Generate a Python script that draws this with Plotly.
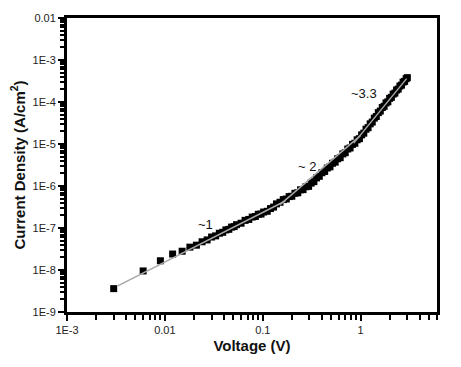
import math
import plotly.graph_objects as go

voltage = [0.003, 0.006, 0.009, 0.012, 0.015, 0.018, 0.021, 0.024, 0.027, 0.030,
           0.033, 0.036, 0.039, 0.042, 0.045, 0.048, 0.051, 0.054, 0.060, 0.066,
           0.072, 0.078, 0.084, 0.090, 0.096, 0.102, 0.111, 0.120, 0.129, 0.138,
           0.150, 0.162, 0.174, 0.186, 0.198, 0.213, 0.228, 0.243, 0.258, 0.276,
           0.294, 0.312, 0.333, 0.354, 0.378, 0.402, 0.429, 0.456, 0.486, 0.516,
           0.549, 0.582, 0.618, 0.657, 0.696, 0.738, 0.780, 0.825, 0.873, 0.921,
           0.972, 1.023, 1.077, 1.134, 1.191, 1.251, 1.314, 1.380, 1.446, 1.515,
           1.587, 1.662, 1.737, 1.815, 1.896, 1.977, 2.061, 2.148, 2.238, 2.328,
           2.421, 2.517, 2.613, 2.712, 2.814, 2.916, 3.000]
current = [3.6e-9, 9.5e-9, 1.66e-8, 2.4e-8, 2.8e-8, 3.5e-8, 3.9e-8, 4.7e-8, 5.2e-8, 6.1e-8,
           6.5e-8, 7.5e-8, 7.9e-8, 9.0e-8, 9.3e-8, 1.05e-7, 1.08e-7, 1.20e-7, 1.30e-7, 1.52e-7,
           1.60e-7, 1.82e-7, 1.88e-7, 2.12e-7, 2.15e-7, 2.40e-7, 2.50e-7, 2.90e-7, 3.15e-7, 3.75e-7,
           4.10e-7, 4.75e-7, 4.90e-7, 5.60e-7, 5.70e-7, 6.70e-7, 6.90e-7, 8.10e-7, 8.20e-7, 9.60e-7,
           9.80e-7, 1.17e-6, 1.27e-6, 1.56e-6, 1.70e-6, 2.07e-6, 2.22e-6, 2.68e-6, 2.86e-6, 3.48e-6,
           3.70e-6, 4.45e-6, 4.72e-6, 5.80e-6, 6.20e-6, 7.60e-6, 8.05e-6, 9.80e-6, 1.04e-5, 1.26e-5,
           1.34e-5, 1.65e-5, 1.81e-5, 2.25e-5, 2.45e-5, 3.02e-5, 3.33e-5, 4.13e-5, 4.52e-5, 5.58e-5,
           6.08e-5, 7.38e-5, 7.90e-5, 9.50e-5, 1.01e-4, 1.22e-4, 1.29e-4, 1.54e-4, 1.63e-4, 1.93e-4,
           2.03e-4, 2.40e-4, 2.52e-4, 2.97e-4, 3.10e-4, 3.60e-4, 3.80e-4]

# Power-law fit segments (endpoints)
fit1_v = [0.0033, 0.17]
fit1_j = [4.2e-9, 4.4e-7]
fit2_v = [0.15, 1.0]
fit2_j = [3.6e-7, 1.6e-5]
fit3_v = [0.85, 2.95]
fit3_j = [1.05e-5, 3.6e-4]

slope_labels = ["~1", "~ 2", "~3.3"]
slope_x = [0.0262, 0.281, 1.07]
slope_y = [1.21e-7, 2.9e-6, 1.62e-4]

x_ticks = [1e-3, 1e-2, 1e-1, 1]
x_text = ["1E-3", "0.01", "0.1", "1"]
y_ticks = [1e-9, 1e-8, 1e-7, 1e-6, 1e-5, 1e-4, 1e-3, 1e-2]
y_text = ["1E-9", "1E-8", "1E-7", "1E-6", "1E-5", "1E-4", "1E-3", "0.01"]
x_minor = [m * 10.0 ** e for e in range(-3, 1) for m in range(2, 10)]
y_minor = [m * 10.0 ** e for e in range(-9, -2) for m in range(2, 10)]

FONT = "Liberation Sans, Arial, sans-serif"

fig = go.Figure()
fig.add_trace(go.Scatter(x=voltage, y=current, mode="markers",
                         marker=dict(symbol="square", size=7, color="black",
                                     line=dict(width=0)),
                         showlegend=False))
for fv, fj in [(fit1_v, fit1_j), (fit2_v, fit2_j), (fit3_v, fit3_j)]:
    fig.add_trace(go.Scatter(x=fv, y=fj, mode="lines",
                             line=dict(color="#a8a8a8", width=1.5),
                             showlegend=False))

# annotations on log axes take log10 coordinates
for t, xv, yv in zip(slope_labels, slope_x, slope_y):
    fig.add_annotation(x=math.log10(xv), y=math.log10(yv), text=t, showarrow=False,
                       xref="x", yref="y",
                       font=dict(family=FONT, size=13, color="#111"))

axis_common = dict(
    type="log", showgrid=False, zeroline=False,
    showline=True, linecolor="black", linewidth=3, mirror=True,
    ticks="outside", ticklen=6, tickwidth=2, tickcolor="black",
    tickfont=dict(family=FONT, size=11, color="#222"),
    tickmode="array",
)

fig.update_xaxes(**axis_common, range=[-3, 0.78], tickvals=x_ticks, ticktext=x_text,
                 minor=dict(ticks="outside", ticklen=4.5, tickwidth=1.5, tickcolor="black",
                            tickmode="array", tickvals=x_minor, showgrid=False),
                 title=dict(text="Voltage (V)", standoff=6,
                            font=dict(family=FONT, size=15, color="#111", weight="bold")))
fig.update_yaxes(**axis_common, range=[-9, -2], tickvals=y_ticks, ticktext=y_text,
                 minor=dict(ticks="outside", ticklen=4.5, tickwidth=1.5, tickcolor="black",
                            tickmode="array", tickvals=y_minor, showgrid=False),
                 title=dict(text="Current Density (A/cm<sup>2</sup>)", standoff=4,
                            font=dict(family=FONT, size=15, color="#111", weight="bold")))

fig.update_layout(width=461, height=367, margin=dict(l=67, r=24, t=13, b=55),
                  plot_bgcolor="white", paper_bgcolor="white")

fig.write_html("out.html")
